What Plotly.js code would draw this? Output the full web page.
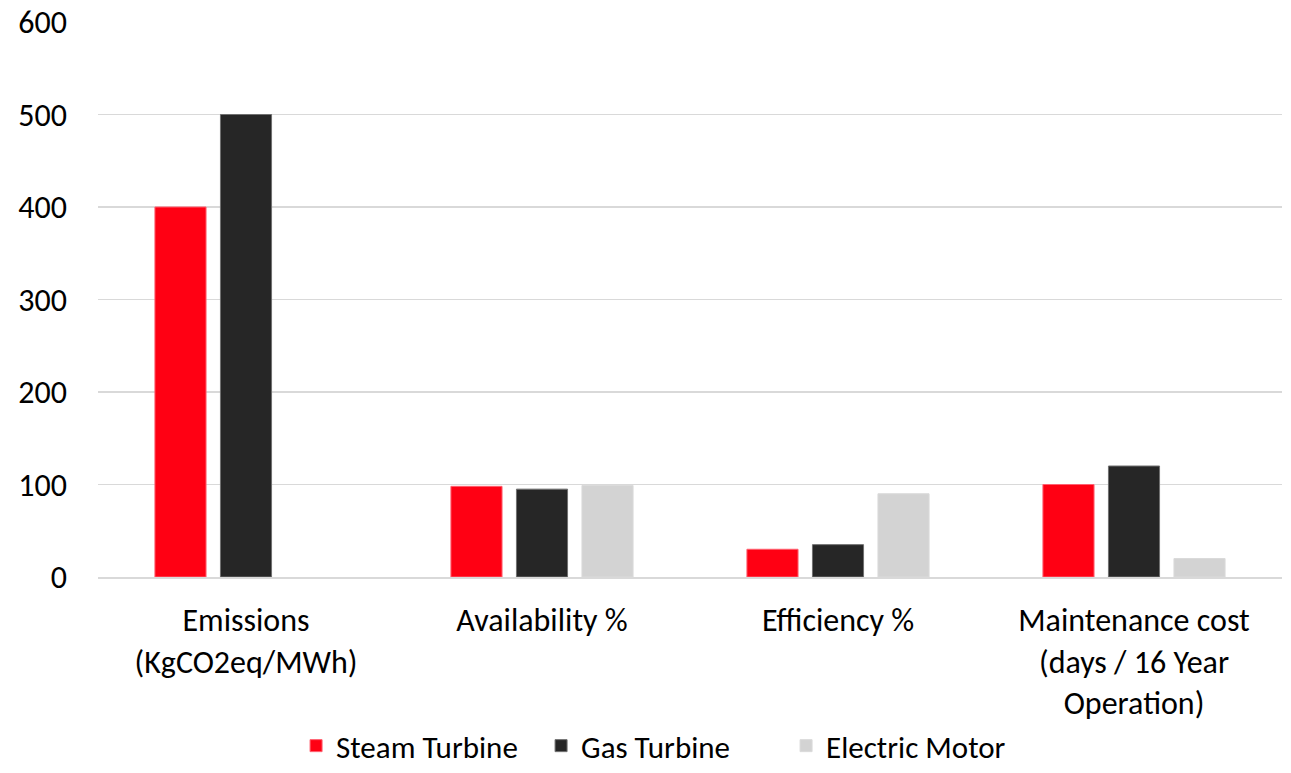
<!DOCTYPE html>
<html>
<head>
<meta charset="utf-8">
<script src="https://cdn.plot.ly/plotly-3.0.1.min.js"></script>
<style>html,body{margin:0;padding:0;background:#fff;}#chart{width:1291px;height:773px;}</style>
</head>
<body>
<div id="chart"></div>
<script>
const categories = ["Emissions<br>(KgCO2eq/MWh)", "Availability %", "Efficiency %", "Maintenance cost<br>(days / 16 Year<br>Operation)"];
const steamTurbine = [400, 98, 30, 100];
const gasTurbine = [500, 95, 35, 120];
const electricMotor = [null, 99, 90, 20];
const yTicks = [0, 100, 200, 300, 400, 500, 600];

const fontFamily = "Carlito, Calibri, Lato, 'Open Sans', sans-serif";

const traces = [
  {type: 'bar', name: 'Steam Turbine', x: categories, y: steamTurbine,
   marker: {color: '#FF0013', line: {color: '#FF6070', width: 1}}},
  {type: 'bar', name: 'Gas Turbine', x: categories, y: gasTurbine,
   marker: {color: '#262626', line: {color: '#707070', width: 1}}},
  {type: 'bar', name: 'Electric Motor', x: categories, y: electricMotor,
   marker: {color: '#D3D3D3', line: {color: '#DADADA', width: 1}}}
];

const layout = {
  width: 1291, height: 773,
  margin: {l: 98, r: 9, t: 22, b: 196},
  paper_bgcolor: '#fff', plot_bgcolor: '#fff',
  font: {family: fontFamily, size: 32, color: '#000'},
  barmode: 'group',
  bargap: 0.336,
  bargroupgap: 0.22,
  showlegend: true,
  hovermode: false,
  legend: {orientation: 'h', xref: 'container', yref: 'container', x: 0.514, xanchor: 'center',
           y: 0, yanchor: 'bottom', entrywidth: 200, entrywidthmode: 'pixels',
           font: {size: 31, family: fontFamily}, itemwidth: 30, tracegroupgap: 0},
  xaxis: {type: 'category', automargin: false, showgrid: false, showline: true, linecolor: '#D9D9D9', linewidth: 1.5,
          ticks: '', tickfont: {size: 32, family: fontFamily}, ticklabelstandoff: 14, fixedrange: true},
  yaxis: {range: [0, 600], automargin: false, tickvals: yTicks, ticktext: yTicks.map(String), showgrid: true,
          gridcolor: '#D9D9D9', gridwidth: 1.5, zeroline: false, showline: false, ticks: '',
          tickfont: {size: 32, family: fontFamily}, ticklabelstandoff: 30, fixedrange: true}
};

Plotly.newPlot('chart', traces, layout, {displayModeBar: false, staticPlot: true});
</script>
</body>
</html>
